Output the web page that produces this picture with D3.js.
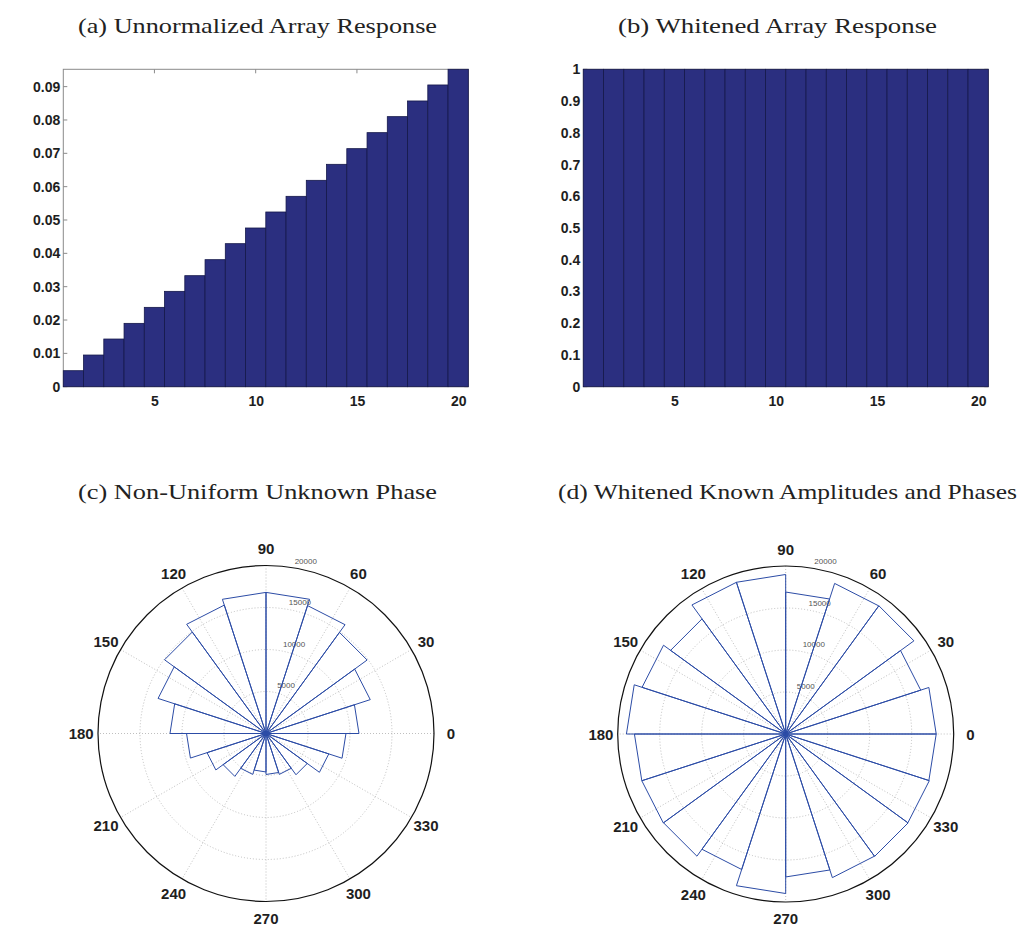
<!DOCTYPE html>
<html><head><meta charset="utf-8">
<script src="https://cdn.jsdelivr.net/npm/d3@7/dist/d3.min.js"></script>
<style>body{margin:0;background:#fff}</style>
</head><body>
<svg id="chart" width="1022" height="926"></svg>
<script>
// ---------- data ----------
const categories = [1,2,3,4,5,6,7,8,9,10,11,12,13,14,15,16,17,18,19,20];
const unnormalizedResponse = [0.0048,0.0095,0.0143,0.0190,0.0238,0.0286,0.0333,0.0381,0.0429,0.0476,
                              0.0524,0.0571,0.0619,0.0667,0.0714,0.0762,0.0810,0.0857,0.0905,0.0952];
const whitenedResponse = [1,1,1,1,1,1,1,1,1,1,1,1,1,1,1,1,1,1,1,1];
const xTicks = [5,10,15,20];
const yTicksA = [0,0.01,0.02,0.03,0.04,0.05,0.06,0.07,0.08,0.09];
const yTickLabelsA = ["0","0.01","0.02","0.03","0.04","0.05","0.06","0.07","0.08","0.09"];
const yTicksB = [0,0.1,0.2,0.3,0.4,0.5,0.6,0.7,0.8,0.9,1];
const yTickLabelsB = ["0","0.1","0.2","0.3","0.4","0.5","0.6","0.7","0.8","0.9","1"];

const roseBinStartDeg = [0,18,36,54,72,90,108,126,144,162,180,198,216,234,252,270,288,306,324,342];
const roseBinEndDeg   = [18,36,54,72,90,108,126,144,162,180,198,216,234,252,270,288,306,324,342,360];
const nonUniformCounts = [11070,13050,14880,16010,16800,16800,16070,14930,13510,11430,
                          9460,7380,6310,5120,4580,4880,5120,6070,7860,9520];
const whitenedKnownCounts = [17920,16900,18870,18850,16900,18990,18990,16940,17980,18960,
                             18010,18010,17980,16960,18990,17020,17980,18010,17980,17920];
const polarAngleTicks = [0,30,60,90,120,150,180,210,240,270,300,330];
const polarRadialTicks = [5000,10000,15000,20000];
const polarMax = 20000;

const titles = ["(a) Unnormalized Array Response","(b) Whitened Array Response",
                "(c) Non-Uniform Unknown Phase","(d) Whitened Known Amplitudes and Phases"];

// ---------- drawing ----------
const svg = d3.select("#chart");
const barFill = "#2b2f80", barEdge = "#15184a", roseColor = "#2c4ca6";
const tickFont = "'Liberation Sans', Arial, sans-serif";

function title(text, x0, x1, baseline) {
  svg.append("text").attr("x", x0).attr("y", baseline)
    .attr("font-family", "'Liberation Serif', 'Times New Roman', serif")
    .attr("font-size", 22).attr("fill", "#222")
    .attr("textLength", x1 - x0).attr("lengthAdjust", "spacingAndGlyphs")
    .text(text);
}

function barChart(left, right, top, bottom, yMax, values, yTicks, yLabels) {
  const g = svg.append("g");
  const x = d3.scaleLinear().domain([0.5, 20.5]).range([left, right]);
  const y = d3.scaleLinear().domain([0, yMax]).range([bottom, top]);
  // frame
  g.append("rect").attr("x", left).attr("y", top).attr("width", right-left).attr("height", bottom-top)
    .attr("fill", "none").attr("stroke", "#8a8a8a").attr("stroke-width", 1);
  // inside ticks
  const tl = 4;
  xTicks.forEach(t => {
    g.append("line").attr("x1", x(t)).attr("x2", x(t)).attr("y1", top).attr("y2", top+tl).attr("stroke", "#8a8a8a");
    g.append("line").attr("x1", x(t)).attr("x2", x(t)).attr("y1", bottom).attr("y2", bottom-tl).attr("stroke", "#8a8a8a");
  });
  yTicks.forEach(t => {
    g.append("line").attr("x1", left).attr("x2", left+tl).attr("y1", y(t)).attr("y2", y(t)).attr("stroke", "#8a8a8a");
    g.append("line").attr("x1", right).attr("x2", right-tl).attr("y1", y(t)).attr("y2", y(t)).attr("stroke", "#8a8a8a");
  });
  // bars
  g.selectAll("rect.bar").data(categories).enter().append("rect").attr("class", "bar")
    .attr("x", d => x(d - 0.5)).attr("width", d => x(d + 0.5) - x(d - 0.5))
    .attr("y", (d, i) => y(values[i])).attr("height", (d, i) => y(0) - y(values[i]))
    .attr("fill", barFill).attr("stroke", barEdge).attr("stroke-width", 0.8);
  // axes labels
  const ya = g.append("g").attr("transform", `translate(${left},0)`)
    .call(d3.axisLeft(y).tickValues(yTicks).tickFormat((d, i) => yLabels[i]).tickSize(0).tickPadding(3));
  const xa = g.append("g").attr("transform", `translate(0,${bottom})`)
    .call(d3.axisBottom(x).tickValues(xTicks).tickFormat(d3.format("d")).tickSize(0).tickPadding(9));
  [ya, xa].forEach(a => {
    a.select(".domain").remove();
    a.selectAll("text").attr("font-family", tickFont).attr("font-size", 14)
      .attr("font-weight", "bold").attr("fill", "#1e1e1e");
  });
}

function polar(cx, cy, R, counts) {
  const g = svg.append("g").attr("transform", `translate(${cx},${cy})`);
  const r = d3.scaleLinear().domain([0, polarMax]).range([0, R]);
  const rad = d => d * Math.PI / 180;
  // spokes
  polarAngleTicks.filter(a => a < 180).forEach(a => {
    g.append("line")
      .attr("x1", r(polarMax) * Math.cos(rad(a))).attr("y1", -r(polarMax) * Math.sin(rad(a)))
      .attr("x2", -r(polarMax) * Math.cos(rad(a))).attr("y2", r(polarMax) * Math.sin(rad(a)))
      .attr("stroke", "#b8b8b8").attr("stroke-width", 0.9).attr("stroke-dasharray", "1,2");
  });
  // rings
  polarRadialTicks.forEach(t => {
    const outer = t === polarMax;
    g.append("circle").attr("r", r(t)).attr("fill", "none")
      .attr("stroke", outer ? "#111" : "#b8b8b8").attr("stroke-width", outer ? 1.2 : 0.9)
      .attr("stroke-dasharray", outer ? null : "1,2");
  });
  // radial labels at 82 degrees
  polarRadialTicks.forEach(t => {
    const rr = r(t) + r(polarMax / 4) / 20;
    g.append("text")
      .attr("x", rr * Math.cos(rad(82)) + 5).attr("y", -rr * Math.sin(rad(82)) - 1.5)
      .attr("font-family", tickFont).attr("font-size", 8).attr("fill", "#555").text(t);
  });
  // angle labels
  polarAngleTicks.forEach(a => {
    g.append("text")
      .attr("x", r(polarMax) * 1.1 * Math.cos(rad(a))).attr("y", -r(polarMax) * 1.1 * Math.sin(rad(a)))
      .attr("text-anchor", "middle").attr("dominant-baseline", "central")
      .attr("font-family", tickFont).attr("font-size", 15).attr("font-weight", "bold")
      .attr("fill", "#1e1e1e").text(a);
  });
  // rose polyline
  const pts = [];
  counts.forEach((c, i) => {
    pts.push({a: roseBinStartDeg[i], v: 0});
    pts.push({a: roseBinStartDeg[i], v: c});
    pts.push({a: roseBinEndDeg[i], v: c});
    pts.push({a: roseBinEndDeg[i], v: 0});
  });
  const line = d3.lineRadial().angle(d => Math.PI / 2 - rad(d.a)).radius(d => r(d.v));
  g.append("path").attr("d", line(pts)).attr("fill", "none")
    .attr("stroke", roseColor).attr("stroke-width", 1).attr("stroke-linejoin", "miter");
}

title(titles[0], 78, 437, 33);
title(titles[1], 618, 937, 33);
title(titles[2], 78, 437, 499);
title(titles[3], 558, 1017, 499);

barChart(63.3, 468.3, 69.3, 386.7, 0.0952, unnormalizedResponse, yTicksA, yTickLabelsA);
barChart(583.3, 988.3, 69.3, 386.7, 1, whitenedResponse, yTicksB, yTickLabelsB);

polar(266, 733.5, 168, nonUniformCounts);
polar(785.7, 734, 168, whitenedKnownCounts);
</script>
</body></html>
